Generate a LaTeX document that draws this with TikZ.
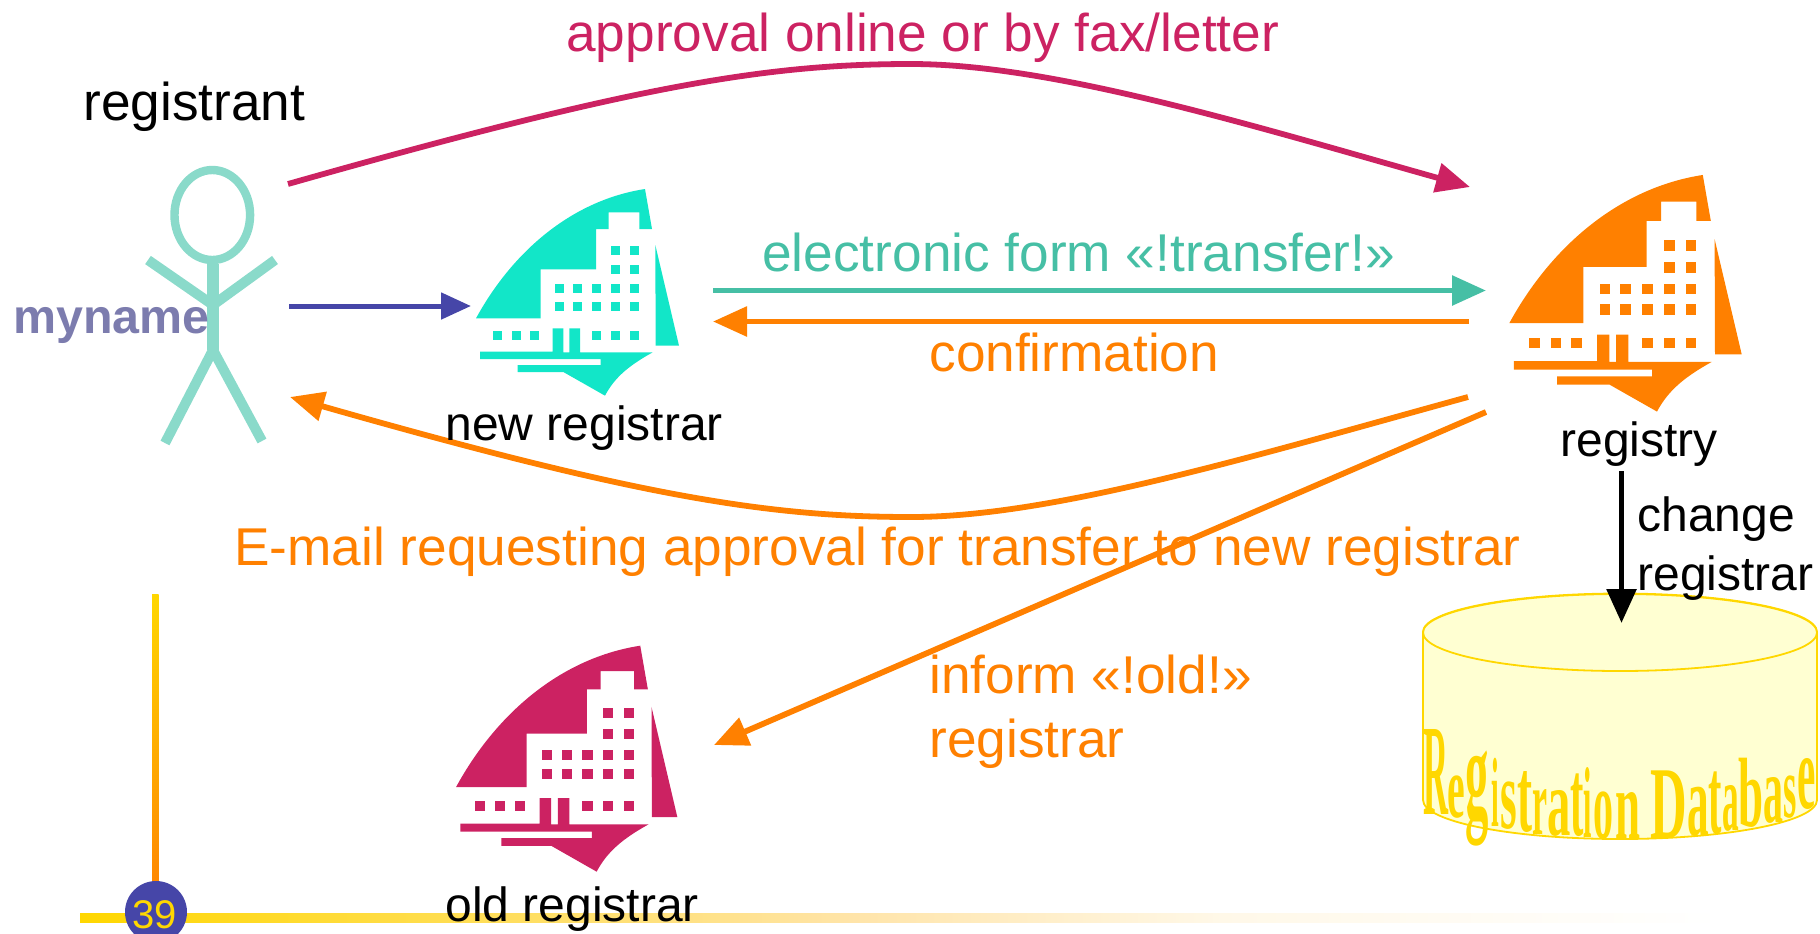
\documentclass[tikz,border=0pt]{standalone}
\usepackage{fontspec}
\setmainfont{Liberation Sans}
\newfontfamily\wafont{Liberation Serif}[Scale=1]
\usetikzlibrary{arrows.meta}
\definecolor{crim}{HTML}{CC2262}
\definecolor{org}{HTML}{FF8000}
\definecolor{teal1}{HTML}{46BFA5}
\definecolor{blu}{HTML}{4646A8}
\definecolor{aqua1}{HTML}{12E6C8}
\definecolor{stick}{HTML}{8ADACA}
\definecolor{gold1}{HTML}{FFD700}
\definecolor{barb}{HTML}{FFE4A8}
\definecolor{barc}{HTML}{FFF8E8}
\definecolor{lyel}{HTML}{FFFFD2}
\definecolor{mynm}{HTML}{7C7CAE}
\tikzset{
 lab/.style={anchor=base west,inner sep=0pt,font=\fontsize{26.6}{30}\selectfont},
 small/.style={anchor=base west,inner sep=0pt,font=\fontsize{24}{28}\selectfont,text=black},
 conn/.style={line width=2.9pt,-{Triangle[length=17pt,width=14.5pt]}},
 stickline/.style={draw=stick,line width=5pt},
}
\newcommand{\building}[5]{%
\begin{scope}[shift={(#1,#2)},xscale=#3/3,yscale=#4/3]
\fill[#5] (78,445) .. controls (190,240) and (370,90) .. (585,57) -- (606,177) -- (568,177) -- (568,127) -- (476,127) -- (476,177) -- (438,177) -- (438,298) -- (272,298) -- (272,445) -- cycle;
\fill[#5] (616,225) -- (687,527) -- (617,527) -- cycle;
\fill[#5] (90,545) -- (308,545) -- (308,475) -- (340,475) -- (340,547) -- (358,547) -- (358,475) -- (390,475) -- (390,547) -- (608,547) .. controls (540,585) and (495,620) .. (465,677) -- (340,606) -- (203,606) -- (203,585) -- (452,585) -- (452,567) -- (90,567) -- cycle;
\foreach \wx in {483,540} \foreach \wy in {228,285} \fill[#5] (\wx,\wy) rectangle ++(28,28);
\foreach \wx in {315,369,426,483,540} \foreach \wy in {342,396} \fill[#5] (\wx,\wy) rectangle ++(28,28);
\foreach \wx in {129,186,240,426,483,540} \fill[#5] (\wx,483) rectangle ++(28,28);
\end{scope}}
\newcommand{\wl}[5]{% x1 x2 ytop ybottom letter, zoom coords
\pgfmathsetlengthmacro{\lw}{(#2-#1)/3*0.5pt}\pgfmathsetlengthmacro{\lh}{(#4-#3)/3*0.5pt}%
\node[anchor=south west,inner sep=0pt,text=gold1] at ({1400+#1/3},{570+#4/3}) {\resizebox{\lw}{\lh}{\wafont\bfseries #5}};}
\begin{document}
\begin{tikzpicture}[x=0.5pt,y=-0.5pt]
\useasboundingbox (0,0) rectangle (1820,933);
% footer
\shade[left color=gold1,right color=barb] (80,913) rectangle (850.5,922);
\shade[left color=barb,right color=barc] (850,913) rectangle (1221.5,922);
\shade[left color=barc,right color=white] (1221,913) rectangle (1720,922);
\shade[top color=gold1,bottom color=orange!90!gold1] (152,594) rectangle (158.5,881);
\fill[blu] (156,912) ellipse [x radius=31,y radius=31];
\node[anchor=base,inner sep=0pt,text=gold1,font=\fontsize{20}{22}\selectfont] (num) at (155,928) {39};
% database
\path[fill=lyel,draw=gold1,line width=0.9pt] (1423,632) -- (1423,800) arc[start angle=180,end angle=360,x radius=197,y radius=-39] -- (1817,632) arc[start angle=0,end angle=180,x radius=197,y radius=-38.5] -- cycle;
\draw[gold1,line width=0.9pt,fill=lyel] (1620,632.5) ellipse [x radius=197,y radius=38.5];
\wl{70}{145}{480}{735}{R}
\wl{142}{195}{620}{745}{e}
\wl{195}{265}{630}{830}{g}
\wl{272}{295}{565}{770}{i}
\wl{300}{350}{640}{780}{s}
\wl{350}{395}{610}{790}{t}
\wl{395}{440}{660}{795}{r}
\wl{440}{510}{665}{800}{a}
\wl{510}{550}{615}{800}{t}
\wl{550}{575}{595}{805}{i}
\wl{580}{640}{670}{810}{o}
\wl{645}{720}{670}{808}{n}
\wl{750}{860}{605}{808}{D}
\wl{860}{925}{655}{800}{a}
\wl{925}{965}{610}{795}{t}
\wl{965}{1015}{650}{785}{a}
\wl{1015}{1090}{570}{775}{b}
\wl{1090}{1150}{625}{760}{a}
\wl{1150}{1190}{620}{745}{s}
\wl{1190}{1245}{570}{720}{e}
% buildings
\building{450}{170}{1}{1}{aqua1}
\building{1479.6}{153.2}{1.1445}{1.145}{org}
\building{427.7}{624.9}{1.09}{1.0935}{crim}
% stick figure
\draw[stickline,line width=4.2pt] (212.3,215) ellipse [x radius=37.8,y radius=45];
\draw[stickline,line width=5.8pt] (213,264) -- (213,350);
\draw[stickline] (148,260) -- (213,305) -- (275,260);
\draw[stickline] (165,443) -- (213,350) -- (262,441);
% coordinates
\coordinate (a1) at (288,184); \coordinate (a2) at (911,64); \coordinate (a3) at (1470,187);
\coordinate (b1) at (1468,397); \coordinate (b2) at (911,517); \coordinate (b3) at (290,397);
\coordinate (c1) at (289,306); \coordinate (c2) at (471,306);
\coordinate (d1) at (713,290.5); \coordinate (d2) at (1486,290.5);
\coordinate (e1) at (1469,321.5); \coordinate (e2) at (713,321.5);
\coordinate (f1) at (1486,412); \coordinate (f2) at (714,745);
\coordinate (g1) at (1621.5,471); \coordinate (g2) at (1621.5,623);
\draw[conn,crim] (a1) .. controls (640,84) and (770,64) .. (a2) .. controls (1052,64) and (1250,125) .. (a3);
\draw[conn,org] (b1) .. controls (1250,457) and (1052,517) .. (b2) .. controls (770,517) and (640,497) .. (b3);
\draw[conn,blu,line width=2.5pt,-{Triangle[length=15pt,width=13pt]}] (c1) -- (c2);
\draw[conn,teal1] (d1) -- (d2);
\draw[conn,org] (e1) -- (e2);
\draw[conn,org] (f1) -- (f2);
\draw[conn,black] (g1) -- (g2);
% text
\node[lab,text=crim] (t1) at (566,51) {approval online or by fax/letter};
\node[lab,text=black] (t2) at (83,120) {registrant};
\node[anchor=base west,inner sep=0pt,font=\fontsize{24.2}{26}\selectfont\bfseries,text=mynm] (t3) at (13,333) {myname};
\node[small] (t4) at (445,440) {new registrar};
\node[lab,text=teal1] (t5) at (762,271) {electronic form «!transfer!»};
\node[lab,text=org] (t6) at (929,371) {confirmation};
\node[lab,text=org] (t7) at (234,565) {E-mail requesting approval for transfer to new registrar};
\node[lab,text=org] (t8) at (929,693) {inform «!old!»};
\node[lab,text=org] (t9) at (929,757) {registrar};
\node[small] (t10) at (1560,456) {registry};
\node[small] (t11) at (1637,531) {change};
\node[small] (t12) at (1637,590) {registrar};
\node[small] (t13) at (445,921) {old registrar};
\end{tikzpicture}
\end{document}
